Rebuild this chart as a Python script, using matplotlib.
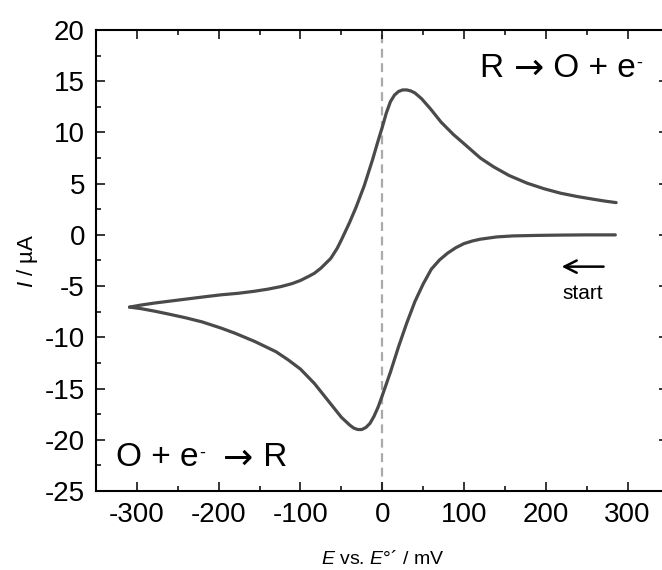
import matplotlib
matplotlib.use("Agg")
import matplotlib.pyplot as plt
import matplotlib.transforms as mtransforms
from matplotlib.ticker import MultipleLocator

plt.rcParams["font.family"] = ["Liberation Sans", "DejaVu Sans"]
plt.rcParams["axes.unicode_minus"] = False
plt.rcParams["mathtext.fontset"] = "custom"
plt.rcParams["mathtext.rm"] = "Liberation Sans"
plt.rcParams["mathtext.it"] = "Liberation Sans:italic"

# ── data (E in mV, I in µA) ─────────────────────────────────────────────────
# forward scan: start at +285 mV, sweep towards negative potentials
E_fwd = [285, 250, 220, 190, 160, 140, 120, 110, 100, 90, 80, 70, 60, 50,
         40, 30, 20, 10, 0, -5, -10, -15, -20, -25, -30, -35, -40, -50, -60,
         -70, -83, -100, -115, -130, -156, -180, -197, -220, -240, -260,
         -278, -295, -309]
I_fwd = [0.0, 0.0, -0.02, -0.05, -0.1, -0.2, -0.42, -0.6, -0.85, -1.25,
         -1.78, -2.45, -3.35, -4.8, -6.5, -8.6, -10.9, -13.4, -15.7, -16.8,
         -17.7, -18.4, -18.8, -19.0, -19.0, -18.85, -18.55, -17.8, -16.8,
         -15.8, -14.5, -13.1, -12.2, -11.4, -10.4, -9.6, -9.1, -8.5, -8.1,
         -7.75, -7.45, -7.2, -7.05]

# reverse scan: back from -310 mV to +285 mV
E_rev = [-309, -295, -278, -258, -238, -218, -197, -176, -156, -140, -124,
         -110, -100, -90, -83, -75, -63, -55, -50, -45, -40, -32, -22, -12,
         -5, 0, 5, 10, 15, 20, 25, 30, 35, 40, 48, 59, 72, 87, 100, 110, 120,
         136, 155, 177, 198, 218, 238, 258, 272, 286]
I_rev = [-7.05, -6.85, -6.65, -6.45, -6.25, -6.05, -5.85, -5.7, -5.5, -5.3,
         -5.05, -4.75, -4.45, -4.05, -3.75, -3.25, -2.3, -1.3, -0.5, 0.35,
         1.2, 2.7, 4.8, 7.3, 9.2, 10.5, 11.9, 13.0, 13.65, 14.0, 14.15,
         14.15, 14.05, 13.85, 13.3, 12.3, 11.0, 9.8, 8.9, 8.2, 7.5, 6.65,
         5.8, 5.05, 4.5, 4.07, 3.75, 3.48, 3.3, 3.15]

fig = plt.figure(figsize=(6.62, 5.70), dpi=100)
ax = fig.add_axes([0.145, 0.1386, 0.8648, 0.8088])

line_color = "#4a4a4a"
ax.plot(E_fwd, I_fwd, color=line_color, lw=2.3, solid_capstyle="round")
ax.plot(E_rev, I_rev, color=line_color, lw=2.3, solid_capstyle="round")
ax.axvline(0, color="#aaaaaa", lw=1.6, ls=(0, (4, 2.5)), zorder=0)

ax.set_xlim(-350, 350)
ax.set_ylim(-25, 20)
ax.xaxis.set_major_locator(MultipleLocator(100))
ax.xaxis.set_minor_locator(MultipleLocator(50))
ax.yaxis.set_major_locator(MultipleLocator(5))
ax.yaxis.set_minor_locator(MultipleLocator(2.5))
ax.tick_params(which="both", direction="in", top=True, right=True,
               width=1.1, labelsize=20, pad=8)
ax.tick_params(which="major", length=6.5)
ax.tick_params(which="minor", length=3.6)
for sp in ax.spines.values():
    sp.set_linewidth(1.5)

ax.set_xlabel(r"$E$ vs. $E$°´ / mV", fontsize=14, labelpad=16)
ax.set_ylabel(r"$I$ / µA", fontsize=16, labelpad=3)


def rich_text(x, y, pieces):
    """pieces: (text, fontsize, family, dy in pixels), laid out left to right"""
    renderer = fig.canvas.get_renderer()
    dx = 0.0
    for s, size, fam, dy in pieces:
        tr = mtransforms.offset_copy(ax.transData, fig=fig, x=dx, y=dy,
                                     units="dots")
        t = ax.text(x, y, s, fontsize=size, family=fam, ha="left",
                    va="baseline", transform=tr)
        dx += t.get_window_extent(renderer).width


LS, DJ = "Liberation Sans", "DejaVu Sans"
rich_text(120, 15.4, [("R ", 24, LS, 0), ("→", 26, DJ, -2),
                      (" O + e", 24, LS, 0), ("-", 13, LS, 9)])
rich_text(-325, -22.6, [("O + e", 24, LS, 0), ("-", 13, LS, 9),
                        ("  ", 24, LS, 0), ("→", 26, DJ, -2),
                        (" R", 24, LS, 0)])

ax.annotate("", xy=(216, -3.1), xytext=(274, -3.1),
            arrowprops=dict(arrowstyle="->", color="black", lw=1.8,
                            mutation_scale=22))
ax.text(245, -6.25, "start", fontsize=15, ha="center", va="baseline")

fig.savefig("out.png", dpi=100)
